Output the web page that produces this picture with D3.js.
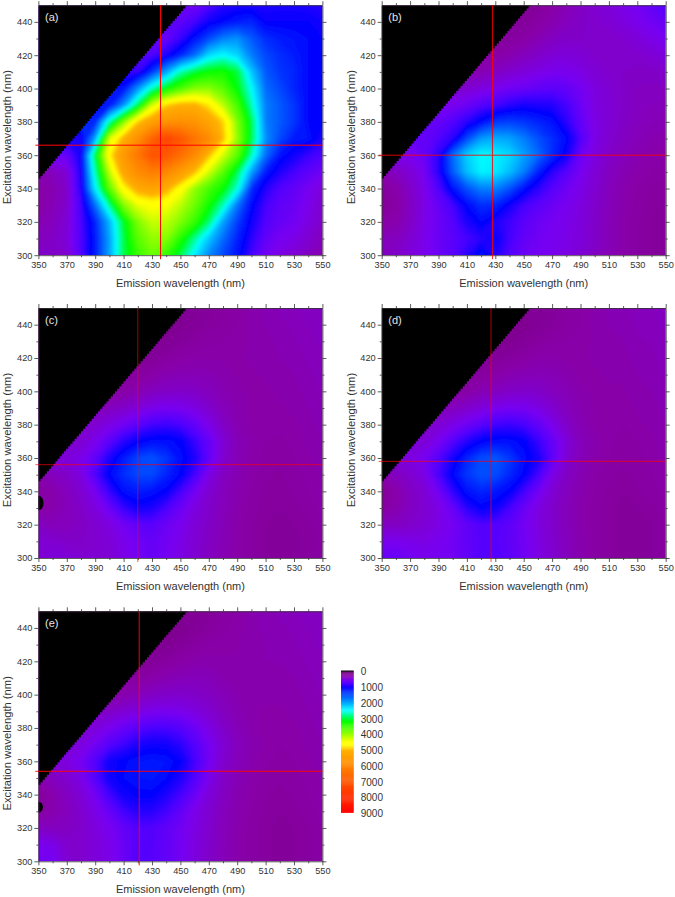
<!DOCTYPE html>
<html><head><meta charset="utf-8">
<script src="https://cdn.jsdelivr.net/npm/d3@7/dist/d3.min.js"></script>
<style>
html,body{margin:0;padding:0;background:#fff}
svg{display:block}
text{font-family:"Liberation Sans",Arial,sans-serif;fill:#333}
</style></head><body>
<svg id="c" width="675" height="897"></svg>
<script>
const _ = null; // no data: excitation beyond emission (masked region)
const emission = [350,360,370,380,390,400,410,420,430,440,450,460,470,480,490,500,510,520,530,540,550];
const excitation = [300,310,320,330,340,350,360,370,380,390,400,410,420,430,440,450];
const xTicks = [350,370,390,410,430,450,470,490,510,530,550];
const yTicks = [300,320,340,360,380,400,420,440];
const legendLabels = [0,1000,2000,3000,4000,5000,6000,7000,8000,9000];
const panelNames = ["(a)","(b)","(c)","(d)","(e)"];
const peakEmission = [436,428,420,427,421];
const peakExcitation = [366,360,356,358,354];

const gridA = [
[450,450,470,800,1250,2000,3000,3500,3800,3500,3000,2400,1850,1500,1200,850,650,550,500,420,350],
[400,430,520,800,1250,2000,3000,3700,4000,3950,3400,2800,2200,1700,1300,950,720,620,570,480,400],
[350,400,500,820,1300,2100,3100,3900,4250,4200,3900,3500,2900,2000,1450,1050,800,700,650,550,450],
[300,370,470,850,1700,2800,3900,4400,4550,4500,4200,3800,3300,2700,1750,1150,850,730,680,580,480],
[300,350,450,950,2400,3700,4650,5200,5350,5150,4600,4000,3600,3250,2600,1350,980,800,720,620,520],
[350,400,500,1000,2700,4200,5300,5900,6200,6000,5500,5000,4300,3700,3000,2000,1250,1000,850,750,650],
[_,_,700,1050,3000,4700,5600,6300,7100,7000,6500,5900,5000,4300,3700,2700,1700,1200,1050,900,800],
[_,_,_,1000,2000,4300,5100,5800,6700,7400,7000,6400,5900,5000,4000,3000,1900,1500,1250,1200,1000],
[_,_,_,_,1300,2700,3900,4900,5400,5700,5800,5700,5300,4900,3900,3000,1800,1600,1400,1150,1100],
[_,_,_,_,_,1200,1900,3000,4300,4900,5100,5100,4800,4200,3600,2700,1800,1600,1400,1150,1100],
[_,_,_,_,_,_,1200,1900,2700,3200,3600,3900,3950,3700,3200,2500,1700,1500,1300,1150,1100],
[_,_,_,_,_,_,_,900,1400,2000,2700,3050,3250,3300,3050,2200,1600,1400,1300,1150,1100],
[_,_,_,_,_,_,_,_,800,1000,1300,1700,2300,2500,2300,1800,1500,1350,1250,1150,1100],
[_,_,_,_,_,_,_,_,_,700,900,1200,1500,1800,1900,1600,1350,1250,1200,1150,1100],
[_,_,_,_,_,_,_,_,_,_,750,850,1050,1150,1250,1300,1100,1100,1100,1100,1050],
[_,_,_,_,_,_,_,_,_,_,_,650,800,950,1000,1000,1000,1020,1020,1000,950]];

const gridB = [
[420,450,520,600,680,760,950,1200,1000,800,680,640,600,560,500,430,370,320,280,250,240],
[400,400,480,580,680,760,850,950,1100,850,720,650,610,570,520,450,380,320,280,250,240],
[300,330,430,570,680,780,1000,1150,1000,880,760,680,630,580,530,450,380,320,280,250,240],
[220,290,420,560,700,850,1150,1350,1300,1050,850,760,680,610,540,460,390,330,290,260,240],
[250,320,440,580,800,1200,1550,1800,1800,1550,1200,950,780,660,570,480,400,340,300,270,260],
[350,420,500,620,950,1600,2150,2450,2400,2150,1800,1300,950,770,620,500,420,360,320,300,280],
[_,_,600,700,950,1700,2250,2500,2450,2300,2000,1700,1350,1050,680,540,450,390,350,320,300],
[_,_,_,700,800,950,1500,1950,2050,2000,1800,1550,1350,1150,800,560,480,420,380,350,330],
[_,_,_,_,700,800,950,1150,1400,1450,1400,1300,1200,950,720,560,500,440,400,380,360],
[_,_,_,_,_,600,680,780,850,950,1020,1000,980,850,680,540,500,450,420,400,380],
[_,_,_,_,_,_,480,540,600,650,680,720,750,720,640,540,490,450,420,420,420],
[_,_,_,_,_,_,_,350,420,470,520,560,600,600,560,500,470,450,440,440,460],
[_,_,_,_,_,_,_,_,300,340,400,450,500,520,500,470,460,450,470,500,540],
[_,_,_,_,_,_,_,_,_,260,300,360,420,450,450,450,460,480,520,570,620],
[_,_,_,_,_,_,_,_,_,_,240,280,340,400,440,470,490,540,590,650,700],
[_,_,_,_,_,_,_,_,_,_,_,240,300,370,430,480,520,580,640,720,780]];

const gridC = [
[500,520,520,480,480,500,560,640,700,640,560,480,420,360,320,280,250,230,250,270,290],
[480,480,450,450,470,510,580,660,700,650,570,490,430,370,320,280,250,230,240,260,280],
[430,380,400,430,480,540,640,730,760,680,600,510,440,380,320,280,250,240,250,270,300],
[300,330,390,450,530,680,900,1050,1000,830,680,540,460,390,330,290,260,250,260,290,310],
[260,330,400,480,620,900,1180,1250,1200,1100,850,640,480,400,340,300,270,260,280,300,320],
[350,400,450,540,800,1130,1350,1500,1500,1300,1120,850,560,420,360,310,280,270,290,310,330],
[_,_,520,580,720,1000,1250,1480,1550,1400,1180,1000,720,480,370,320,290,280,300,320,340],
[_,_,_,480,590,750,950,1100,1170,1180,1120,900,700,500,380,330,300,290,310,330,350],
[_,_,_,_,480,560,650,750,850,880,830,720,580,440,350,320,300,310,320,340,360],
[_,_,_,_,_,400,450,510,580,610,600,550,470,390,340,320,310,320,330,350,370],
[_,_,_,_,_,_,300,360,410,440,450,440,400,360,330,320,320,330,340,360,380],
[_,_,_,_,_,_,_,260,310,350,370,370,360,340,320,320,330,340,350,370,390],
[_,_,_,_,_,_,_,_,230,270,300,320,320,320,320,330,340,350,360,380,400],
[_,_,_,_,_,_,_,_,_,200,240,270,290,300,310,330,340,360,370,390,410],
[_,_,_,_,_,_,_,_,_,_,190,230,260,280,300,330,350,370,380,400,420],
[_,_,_,_,_,_,_,_,_,_,_,210,240,270,300,330,360,380,400,410,430]];

const gridD = [
[700,700,650,600,620,650,720,800,800,750,660,560,480,400,340,290,260,240,240,250,260],
[600,600,580,560,600,650,720,780,780,730,650,550,470,400,340,290,260,240,240,250,260],
[440,420,450,500,560,630,730,800,800,740,640,540,460,390,330,290,260,240,240,250,270],
[260,340,420,480,560,700,950,1100,1050,850,690,550,460,390,330,290,260,240,250,270,290],
[230,320,420,500,640,920,1200,1300,1230,1110,860,650,490,400,340,300,270,250,270,290,310],
[330,410,470,560,820,1130,1400,1550,1520,1320,1120,850,570,430,360,310,280,270,280,300,320],
[_,_,540,620,780,1020,1300,1520,1580,1420,1180,1020,740,500,380,330,300,280,290,310,330],
[_,_,_,500,610,780,970,1110,1180,1180,1120,900,710,520,390,340,310,290,300,320,340],
[_,_,_,_,490,570,660,760,860,890,840,730,590,450,360,320,300,300,320,330,350],
[_,_,_,_,_,400,460,520,590,620,610,560,480,400,350,320,310,310,330,340,360],
[_,_,_,_,_,_,300,360,410,440,460,450,410,370,330,320,320,320,340,350,370],
[_,_,_,_,_,_,_,260,310,350,370,380,370,340,320,320,330,330,350,360,380],
[_,_,_,_,_,_,_,_,220,260,290,320,330,320,320,330,340,340,360,370,390],
[_,_,_,_,_,_,_,_,_,190,230,260,290,300,310,330,340,350,370,380,400],
[_,_,_,_,_,_,_,_,_,_,180,220,250,280,300,330,350,360,380,390,410],
[_,_,_,_,_,_,_,_,_,_,_,200,230,270,300,330,360,370,390,400,420]];

const gridE = [
[640,640,480,470,520,570,680,800,780,720,640,540,450,380,330,290,260,240,250,270,290],
[600,580,470,470,520,580,680,780,780,720,640,540,460,390,330,290,260,240,250,270,290],
[430,400,420,460,530,610,710,800,800,730,650,550,470,390,330,290,260,240,250,270,300],
[270,340,400,470,570,700,860,970,960,860,720,580,480,400,340,300,270,250,270,290,310],
[240,330,420,500,640,860,1050,1120,1120,1000,850,680,520,420,350,310,280,260,280,300,320],
[340,410,470,570,780,1050,1150,1200,1220,1150,1000,800,580,440,370,320,290,280,290,310,330],
[_,_,540,630,790,1050,1130,1200,1230,1200,1100,850,640,470,390,340,310,290,300,320,340],
[_,_,_,530,650,780,880,1010,1060,1050,950,790,630,490,400,350,320,300,310,330,350],
[_,_,_,_,520,610,690,770,830,830,780,680,560,450,380,340,310,310,320,340,360],
[_,_,_,_,_,440,490,540,590,600,590,540,480,410,360,330,320,320,330,350,370],
[_,_,_,_,_,_,330,380,430,450,460,450,420,380,350,330,330,330,340,360,380],
[_,_,_,_,_,_,_,270,320,360,380,390,380,350,340,330,340,340,350,370,390],
[_,_,_,_,_,_,_,_,230,270,300,330,340,330,330,340,350,350,360,380,400],
[_,_,_,_,_,_,_,_,_,190,230,270,300,310,320,340,350,360,370,390,410],
[_,_,_,_,_,_,_,_,_,_,180,220,260,290,310,340,360,370,380,400,420],
[_,_,_,_,_,_,_,_,_,_,_,200,240,280,310,340,370,380,400,410,430]];

// Colour stops
const stopValues = [0,50,70,300,600,800,1100,1800,2500,3200,3900,4500,4700,5050,5800,6800,9000];
const stopColors = ["#000000","#000000","#7a0080","#8800a8","#7800f0","#5000ff","#0000ff","#0080ff","#00ffff","#00ff00","#80ff00","#ffff00","#ffff00","#ffb000","#ff9000","#ff6000","#ff0000"];
// Zero-signal spots at the 350 nm edge: [panel index, em, ex, em half-size, ex half-size]
const zeroSpots = [[2,350,333,3.6,4.4],[4,350,332.5,3.2,3.2]];

// layout
const plotW = 284, plotH = 250;
const origins = [[38.4,5.2],[381.7,5.2],[38.4,308],[381.7,308],[38.4,611.3]];
const lineStrength = [1,0.85,0.65,0.7,0.95];
const dark = "#333";

const grids = [gridA,gridB,gridC,gridD,gridE];
const color = d3.scaleLinear().domain(stopValues).range(stopColors).clamp(true);
const svg = d3.select("#c");
const defs = svg.append("defs");
defs.append("filter").attr("id","soft").attr("x","-5%").attr("y","-5%").attr("width","110%").attr("height","110%")
  .append("feGaussianBlur").attr("stdDeviation",1.6);
defs.append("clipPath").attr("id","plotclip").append("rect").attr("width",plotW).attr("height",plotH);

const x = d3.scaleLinear().domain([350,550]).range([0,plotW]);
const y = d3.scaleLinear().domain([300,450]).range([plotH,0]);
const thresholds = d3.range(50,9000,25);

function fillGaps(grid){
  return grid.flatMap(row=>{
    const first=row.find(v=>v!==null);
    return row.map(v=>v===null?first:v);
  });
}

grids.forEach((grid,p)=>{
  const g = svg.append("g").attr("transform",`translate(${origins[p][0]},${origins[p][1]})`);
  const body = g.append("g").attr("clip-path","url(#plotclip)");
  const heat = body.append("g").attr("filter","url(#soft)");
  const flat = fillGaps(grid);
  const nx = emission.length, ny = excitation.length;
  const dEm = emission[1]-emission[0], dEx = excitation[1]-excitation[0];
  const proj = d3.geoTransform({point(cx,cy){
    this.stream.point(x(emission[0]+(cx-0.5)*dEm), y(excitation[0]+(cy-0.5)*dEx));
  }});
  const path = d3.geoPath(proj);
  const levels = thresholds.filter(t=>t<=d3.max(flat));
  const contours = d3.contours().size([nx,ny]).smooth(true).thresholds(levels)(flat);
  heat.selectAll("path").data(contours).join("path")
    .attr("d",path).attr("fill",d=>color(d.value)).attr("stroke",d=>color(d.value)).attr("stroke-width",0.4);

  // black mask region (no data)
  const edgeEm = d3.range(350,456,1.5);
  const stair = d3.line().x(e=>x(e)).y(e=>y(e-4)).curve(d3.curveStepAfter)(edgeEm);
  body.append("path").attr("d",stair+`L${x(455)},${y(450)}L${x(350)},${y(450)}Z`).attr("fill","#000");
  zeroSpots.filter(s=>s[0]===p).forEach(s=>{
    body.append("ellipse").attr("cx",x(s[1])).attr("cy",y(s[2]))
      .attr("rx",x(s[1]+s[3])-x(s[1])).attr("ry",y(s[2])-y(s[2]+s[4])).attr("fill","#000");
  });

  // frame and ticks on all sides
  const minorX = d3.range(360,550,20), minorY = d3.range(310,450,20);
  const ax = (gen,scale,major,minor,tf,showLabels)=>{
    const a = g.append("g").attr("transform",tf);
    a.call(gen(scale).tickValues(minor).tickSize(2).tickFormat(""));
    const b = g.append("g").attr("transform",tf);
    b.call(gen(scale).tickValues(major).tickSize(4).tickSizeOuter(0).tickPadding(2).tickFormat(showLabels?d3.format("d"):""));
    [a,b].forEach(s=>{s.selectAll("path,line").attr("stroke",dark).attr("stroke-width",0.8);});
    a.select(".domain").remove();
    b.selectAll("text").attr("font-size",9.2).attr("font-family",'"Liberation Sans",Arial,sans-serif').attr("fill",dark);
    return b;
  };
  ax(d3.axisBottom,x,xTicks,minorX,`translate(0,${plotH})`,true);
  ax(d3.axisTop,x,xTicks,minorX,`translate(0,0)`,false);
  ax(d3.axisLeft,y,yTicks,minorY,`translate(0,0)`,true);
  ax(d3.axisRight,y,yTicks,minorY,`translate(${plotW},0)`,false);

  // crosshair
  const cross = g.append("g").attr("stroke","#ff0000").attr("stroke-width",1).attr("opacity",lineStrength[p]);
  cross.append("line").attr("x1",x(peakEmission[p])).attr("x2",x(peakEmission[p])).attr("y1",0).attr("y2",plotH+4);
  cross.append("line").attr("x1",-3).attr("x2",plotW).attr("y1",y(peakExcitation[p])).attr("y2",y(peakExcitation[p]));

  g.append("text").attr("x",6.6).attr("y",15.8).attr("font-size",11).style("fill","#e6e6e6").text(panelNames[p]);
  g.append("text").attr("x",plotW/2).attr("y",plotH+32).attr("text-anchor","middle").attr("font-size",11).text("Emission wavelength (nm)");
  g.append("text").attr("transform",`translate(-27,${plotH/2+7}) rotate(-90)`).attr("text-anchor","middle").attr("font-size",11.2).text("Excitation wavelength (nm)");
});

// legend
const legendY = d3.scaleLinear().domain([0,9000]).range([670.5,812.5]);
const lg = svg.append("g");
const legendSteps = d3.range(0,9000,60);
lg.selectAll("rect").data(legendSteps).join("rect")
  .attr("x",341).attr("width",12.7)
  .attr("y",d=>legendY(d)).attr("height",d=>legendY(d+60)-legendY(d)+0.4)
  .attr("fill",d=>color(d));
const legendAxis = lg.append("g").attr("transform","translate(353.7,1)")
  .call(d3.axisRight(legendY).tickValues(legendLabels).tickSize(0).tickPadding(7).tickFormat(d3.format("d")));
legendAxis.select(".domain").remove();
legendAxis.selectAll("text").attr("font-size",10).attr("font-family",'"Liberation Sans",Arial,sans-serif').attr("fill",dark);
</script>
</body></html>
